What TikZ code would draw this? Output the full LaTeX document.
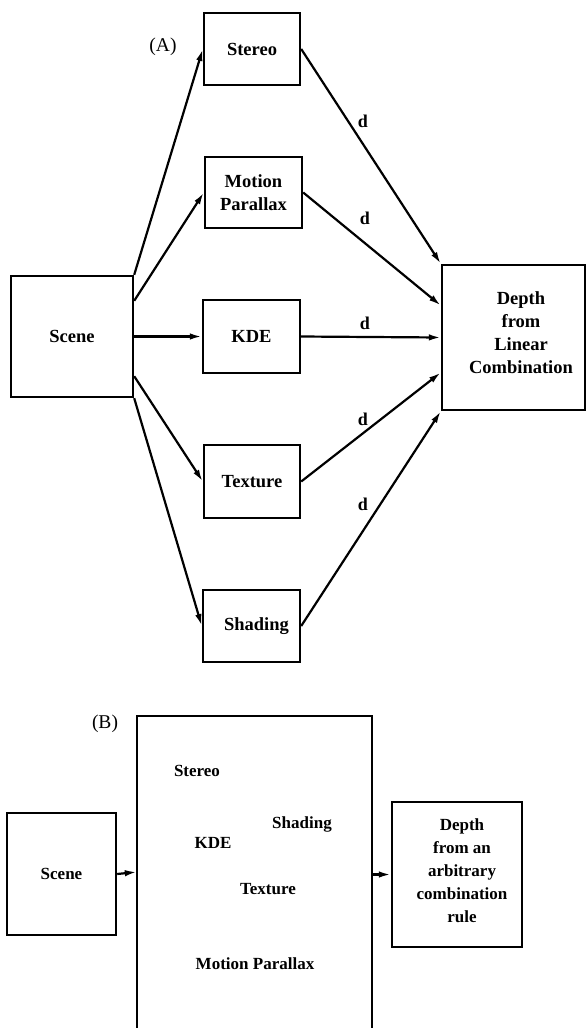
\documentclass[tikz,border=0pt]{standalone}
\usepackage{fontspec}
\setmainfont{Liberation Serif}
\usetikzlibrary{arrows.meta}
\begin{document}
\begin{tikzpicture}[x=1pt,y=-1pt,
  box/.style={draw,line width=2.4pt,inner sep=0pt,align=center,font=\fontsize{18.5}{23}\selectfont\bfseries},
  boxb/.style={draw,line width=2.4pt,inner sep=0pt,align=center,font=\fontsize{17}{23}\selectfont\bfseries},
  txt/.style={inner sep=0pt,align=center,font=\fontsize{18.5}{23}\selectfont\bfseries},
  txtb/.style={inner sep=0pt,align=center,font=\fontsize{17}{23}\selectfont\bfseries},
  dlab/.style={inner sep=0pt,font=\fontsize{18}{20}\selectfont\bfseries},
  tag/.style={inner sep=0pt,font=\fontsize{19.5}{22}\selectfont},
  arr/.style={line width=2.2pt,-{Latex[length=12pt,width=6.5pt]}},
  ln/.style={line width=2.4pt}]
\useasboundingbox (0,0) rectangle (586,1028);

% ---------- (A) ----------
\node[tag] (taga) at (163,47) {(A)};
\node[box,minimum width=122pt,minimum height=121pt] (scenea) at (72,336.5) {Scene};
\node[box,minimum width=96pt,minimum height=72pt] (stereo) at (252,49) {Stereo};
\node[box,minimum width=97pt,minimum height=71pt] (motion) at (253.5,192.5) {Motion\\Parallax};
\node[box,minimum width=97pt,minimum height=73pt] (kde) at (251.5,336.5) {KDE};
\node[box,minimum width=96pt,minimum height=73pt] (texture) at (252,481.5) {Texture};
\node[box,minimum width=97pt,minimum height=72pt] (shading) at (251.5,626) {\hspace*{10pt}Shading};
\node[box,minimum width=143pt,minimum height=145pt] (deptha) at (513.5,337.5) {};
\node[txt] (depthatext) at (521,333) {Depth\\from\\Linear\\Combination};

\draw[arr] (scenea.north east) -- (stereo.west);
\draw[arr] ([yshift=-26pt]scenea.north east) -- (motion.west);
\draw[arr] (scenea.east) -- (kde.west);
\draw[arr] ([yshift=22pt]scenea.south east) -- (texture.west);
\draw[arr] (scenea.south east) -- (shading.west);

\draw[arr] (stereo.east) -- (deptha.north west);
\draw[arr] (motion.east) -- ([yshift=32pt]deptha.west);
\draw[arr] (kde.east) -- (deptha.west);
\draw[arr] (texture.east) -- ([yshift=-35pt]deptha.west);
\draw[arr] (shading.east) -- (deptha.south west);

\node[dlab] (d1) at (363,121) {d};
\node[dlab] (d2) at (365,218) {d};
\node[dlab] (d3) at (365,323) {d};
\node[dlab] (d4) at (363,419) {d};
\node[dlab] (d5) at (363,504) {d};

% ---------- (B) ----------
\node[tag] (tagb) at (105,724) {(B)};
\node[boxb,minimum width=109pt,minimum height=122pt] (sceneb) at (61.5,874) {Scene};
\node[inner sep=0pt,minimum width=235pt,minimum height=312pt] (mid) at (254.5,872) {};
\draw[ln] (mid.south west) -- (mid.north west) -- (mid.north east) -- (mid.south east);
\node[txtb] (bstereo) at (197,771) {Stereo};
\node[txtb] (bshading) at (302,824) {Shading};
\node[txtb] (bkde) at (213,843) {KDE};
\node[txtb] (btexture) at (268,889) {Texture};
\node[txtb] (bmotion) at (255,964) {Motion Parallax};
\node[boxb,minimum width=130pt,minimum height=145pt] (depthb) at (457,874.5) {};
\node[txtb] (depthbtext) at (462,871) {Depth\\from an\\arbitrary\\combination\\rule};

\draw[arr] (sceneb.east) -- (mid.west);
\draw[arr] (mid.east |- depthb.west) -- (depthb.west);
\end{tikzpicture}
\end{document}
